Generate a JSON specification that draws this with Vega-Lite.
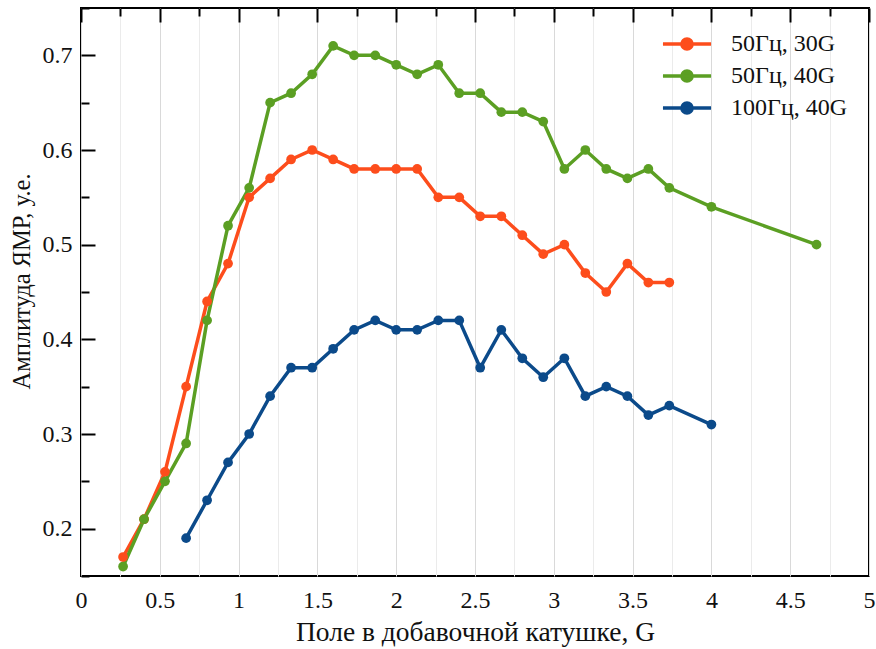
{
  "$schema": "https://vega.github.io/schema/vega-lite/v6.json",
  "width": 788,
  "height": 568,
  "autosize": {"type": "none"},
  "padding": {"left": 81, "top": 8, "right": 7, "bottom": 73},
  "background": "white",
  "config": {
    "view": {"stroke": "black", "strokeWidth": 2},
    "font": "Liberation Serif",
    "axis": {"labelFont": "Liberation Serif", "titleFont": "Liberation Serif", "labelColor": "#111", "titleColor": "#111", "titleFontWeight": "normal", "labelFontSize": 24, "titleFontSize": 24, "ticks": false, "domain": false}
  },
  "data": {"values": [
    {"x": 0.267, "y": 0.17, "s": "50Гц, 30G"},
    {"x": 0.4, "y": 0.21, "s": "50Гц, 30G"},
    {"x": 0.533, "y": 0.26, "s": "50Гц, 30G"},
    {"x": 0.667, "y": 0.35, "s": "50Гц, 30G"},
    {"x": 0.8, "y": 0.44, "s": "50Гц, 30G"},
    {"x": 0.933, "y": 0.48, "s": "50Гц, 30G"},
    {"x": 1.067, "y": 0.55, "s": "50Гц, 30G"},
    {"x": 1.2, "y": 0.57, "s": "50Гц, 30G"},
    {"x": 1.333, "y": 0.59, "s": "50Гц, 30G"},
    {"x": 1.467, "y": 0.60, "s": "50Гц, 30G"},
    {"x": 1.6, "y": 0.59, "s": "50Гц, 30G"},
    {"x": 1.733, "y": 0.58, "s": "50Гц, 30G"},
    {"x": 1.867, "y": 0.58, "s": "50Гц, 30G"},
    {"x": 2.0, "y": 0.58, "s": "50Гц, 30G"},
    {"x": 2.133, "y": 0.58, "s": "50Гц, 30G"},
    {"x": 2.267, "y": 0.55, "s": "50Гц, 30G"},
    {"x": 2.4, "y": 0.55, "s": "50Гц, 30G"},
    {"x": 2.533, "y": 0.53, "s": "50Гц, 30G"},
    {"x": 2.667, "y": 0.53, "s": "50Гц, 30G"},
    {"x": 2.8, "y": 0.51, "s": "50Гц, 30G"},
    {"x": 2.933, "y": 0.49, "s": "50Гц, 30G"},
    {"x": 3.067, "y": 0.50, "s": "50Гц, 30G"},
    {"x": 3.2, "y": 0.47, "s": "50Гц, 30G"},
    {"x": 3.333, "y": 0.45, "s": "50Гц, 30G"},
    {"x": 3.467, "y": 0.48, "s": "50Гц, 30G"},
    {"x": 3.6, "y": 0.46, "s": "50Гц, 30G"},
    {"x": 3.733, "y": 0.46, "s": "50Гц, 30G"},
    {"x": 0.267, "y": 0.16, "s": "50Гц, 40G"},
    {"x": 0.4, "y": 0.21, "s": "50Гц, 40G"},
    {"x": 0.533, "y": 0.25, "s": "50Гц, 40G"},
    {"x": 0.667, "y": 0.29, "s": "50Гц, 40G"},
    {"x": 0.8, "y": 0.42, "s": "50Гц, 40G"},
    {"x": 0.933, "y": 0.52, "s": "50Гц, 40G"},
    {"x": 1.067, "y": 0.56, "s": "50Гц, 40G"},
    {"x": 1.2, "y": 0.65, "s": "50Гц, 40G"},
    {"x": 1.333, "y": 0.66, "s": "50Гц, 40G"},
    {"x": 1.467, "y": 0.68, "s": "50Гц, 40G"},
    {"x": 1.6, "y": 0.71, "s": "50Гц, 40G"},
    {"x": 1.733, "y": 0.70, "s": "50Гц, 40G"},
    {"x": 1.867, "y": 0.70, "s": "50Гц, 40G"},
    {"x": 2.0, "y": 0.69, "s": "50Гц, 40G"},
    {"x": 2.133, "y": 0.68, "s": "50Гц, 40G"},
    {"x": 2.267, "y": 0.69, "s": "50Гц, 40G"},
    {"x": 2.4, "y": 0.66, "s": "50Гц, 40G"},
    {"x": 2.533, "y": 0.66, "s": "50Гц, 40G"},
    {"x": 2.667, "y": 0.64, "s": "50Гц, 40G"},
    {"x": 2.8, "y": 0.64, "s": "50Гц, 40G"},
    {"x": 2.933, "y": 0.63, "s": "50Гц, 40G"},
    {"x": 3.067, "y": 0.58, "s": "50Гц, 40G"},
    {"x": 3.2, "y": 0.60, "s": "50Гц, 40G"},
    {"x": 3.333, "y": 0.58, "s": "50Гц, 40G"},
    {"x": 3.467, "y": 0.57, "s": "50Гц, 40G"},
    {"x": 3.6, "y": 0.58, "s": "50Гц, 40G"},
    {"x": 3.733, "y": 0.56, "s": "50Гц, 40G"},
    {"x": 4.0, "y": 0.54, "s": "50Гц, 40G"},
    {"x": 4.667, "y": 0.50, "s": "50Гц, 40G"},
    {"x": 0.667, "y": 0.19, "s": "100Гц, 40G"},
    {"x": 0.8, "y": 0.23, "s": "100Гц, 40G"},
    {"x": 0.933, "y": 0.27, "s": "100Гц, 40G"},
    {"x": 1.067, "y": 0.30, "s": "100Гц, 40G"},
    {"x": 1.2, "y": 0.34, "s": "100Гц, 40G"},
    {"x": 1.333, "y": 0.37, "s": "100Гц, 40G"},
    {"x": 1.467, "y": 0.37, "s": "100Гц, 40G"},
    {"x": 1.6, "y": 0.39, "s": "100Гц, 40G"},
    {"x": 1.733, "y": 0.41, "s": "100Гц, 40G"},
    {"x": 1.867, "y": 0.42, "s": "100Гц, 40G"},
    {"x": 2.0, "y": 0.41, "s": "100Гц, 40G"},
    {"x": 2.133, "y": 0.41, "s": "100Гц, 40G"},
    {"x": 2.267, "y": 0.42, "s": "100Гц, 40G"},
    {"x": 2.4, "y": 0.42, "s": "100Гц, 40G"},
    {"x": 2.533, "y": 0.37, "s": "100Гц, 40G"},
    {"x": 2.667, "y": 0.41, "s": "100Гц, 40G"},
    {"x": 2.8, "y": 0.38, "s": "100Гц, 40G"},
    {"x": 2.933, "y": 0.36, "s": "100Гц, 40G"},
    {"x": 3.067, "y": 0.38, "s": "100Гц, 40G"},
    {"x": 3.2, "y": 0.34, "s": "100Гц, 40G"},
    {"x": 3.333, "y": 0.35, "s": "100Гц, 40G"},
    {"x": 3.467, "y": 0.34, "s": "100Гц, 40G"},
    {"x": 3.6, "y": 0.32, "s": "100Гц, 40G"},
    {"x": 3.733, "y": 0.33, "s": "100Гц, 40G"},
    {"x": 4.0, "y": 0.31, "s": "100Гц, 40G"}
  ]},
  "resolve": {"axis": {"x": "independent", "y": "independent"}, "scale": {"x": "shared", "y": "shared", "color": "shared"}},
  "layer": [
    {
      "mark": {"type": "line", "strokeWidth": 3.5},
      "encoding": {
        "x": {"field": "x", "type": "quantitative", "scale": {"domain": [0, 5], "nice": false, "zero": false},
          "axis": {"orient": "bottom", "values": [0.25, 0.75, 1.25, 1.75, 2.25, 2.75, 3.25, 3.75, 4.25, 4.75], "labels": false, "grid": true, "gridColor": "#ebebeb", "gridWidth": 1, "title": null}},
        "y": {"field": "y", "type": "quantitative", "scale": {"domain": [0.15, 0.75], "nice": false, "zero": false},
          "axis": {"orient": "left", "values": [0.15, 0.25, 0.35, 0.45, 0.55, 0.65, 0.75], "labels": false, "grid": true, "gridColor": "#000", "gridWidth": 2, "gridDash": [8, 2000], "title": null}},
        "color": {"field": "s", "type": "nominal",
          "scale": {"domain": ["50Гц, 30G", "50Гц, 40G", "100Гц, 40G"], "range": ["#fd4d1c", "#5b9f23", "#0b4a8a"]},
          "legend": {"title": null, "orient": "none", "legendX": 594, "legendY": 24, "padding": 0,
            "symbolType": "M-3.4,0H3.4M-0.72,0A0.72,0.72,0,1,1,0.72,0A0.72,0.72,0,1,1,-0.72,0Z",
            "symbolSize": 200, "symbolStrokeWidth": 3.5, "labelFont": "Liberation Serif", "labelFontSize": 24, "labelColor": "#111", "labelOffset": 32, "rowPadding": 6,
            "encode": {"symbols": {"update": {"fill": {"scale": "color", "field": "value"}, "stroke": {"scale": "color", "field": "value"}, "fillOpacity": {"value": 1}}}}}
        },
        "order": {"field": "x", "type": "quantitative"}
      }
    },
    {
      "transform": [{"filter": "datum.s === '50Гц, 30G'"}],
      "mark": {"type": "point", "filled": true, "size": 95, "opacity": 1},
      "encoding": {
        "x": {"field": "x", "type": "quantitative",
          "axis": {"orient": "bottom", "values": [0, 0.5, 1, 1.5, 2, 2.5, 3, 3.5, 4, 4.5, 5], "format": "~g", "labelPadding": 12, "grid": true, "gridColor": "#d9d9d9", "gridWidth": 1, "labelFlush": false, "title": "Поле в добавочной катушке, G", "titleFontSize": 27.5, "titlePadding": 6}},
        "y": {"field": "y", "type": "quantitative",
          "axis": {"orient": "left", "values": [0.2, 0.3, 0.4, 0.5, 0.6, 0.7], "format": ".1f", "labelPadding": 9, "grid": true, "gridColor": "#000", "gridWidth": 2, "gridDash": [14, 2000], "title": "Амплитуда ЯМР, у.е.", "titleFontSize": 24.5, "titlePadding": 8, "titleY": 273}},
        "color": {"field": "s", "type": "nominal", "legend": null}
      }
    },
    {
      "transform": [{"filter": "datum.s === '50Гц, 40G'"}],
      "mark": {"type": "point", "filled": true, "size": 95, "opacity": 1},
      "encoding": {
        "x": {"field": "x", "type": "quantitative",
          "axis": {"orient": "bottom", "values": [0, 0.5, 1, 1.5, 2, 2.5, 3, 3.5, 4, 4.5, 5], "labels": false, "grid": true, "gridColor": "#000", "gridWidth": 2, "gridDash": [14, 2000], "title": null}},
        "y": {"field": "y", "type": "quantitative", "axis": null},
        "color": {"field": "s", "type": "nominal", "legend": null}
      }
    },
    {
      "transform": [{"filter": "datum.s === '100Гц, 40G'"}],
      "mark": {"type": "point", "filled": true, "size": 95, "opacity": 1},
      "encoding": {
        "x": {"field": "x", "type": "quantitative",
          "axis": {"orient": "bottom", "values": [0.25, 0.75, 1.25, 1.75, 2.25, 2.75, 3.25, 3.75, 4.25, 4.75], "labels": false, "grid": true, "gridColor": "#000", "gridWidth": 2, "gridDash": [8, 2000], "title": null}},
        "y": {"field": "y", "type": "quantitative", "axis": null},
        "color": {"field": "s", "type": "nominal", "legend": null}
      }
    }
  ]
}
